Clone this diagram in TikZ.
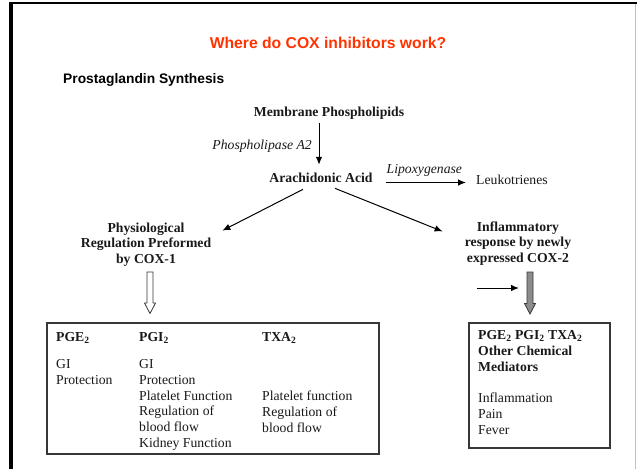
\documentclass[tikz,border=0pt]{standalone}
\usepackage{fontspec}
\setmainfont{Liberation Serif}
\newfontfamily\arialfont{Liberation Sans}
\usetikzlibrary{arrows.meta,calc}
\definecolor{titlered}{RGB}{255,51,0}
\definecolor{boxgray}{RGB}{55,55,55}
\definecolor{blockfill}{RGB}{140,140,140}
\newcommand{\subtwo}{\textsubscript{2}}
\begin{document}
\begin{tikzpicture}[x=1pt,y=-1pt,
  lbl/.style={inner sep=3pt, text=black!90, font=\fontsize{13.7}{15.8}\selectfont},
  blbl/.style={lbl, font=\fontsize{13.7}{15.6}\selectfont\bfseries},
  ilbl/.style={lbl, font=\fontsize{13.7}{15.8}\selectfont\itshape},
  arr/.style={line width=1pt, -{Latex[length=8pt,width=6.5pt]}},
  resultbox/.style={draw=boxgray, line width=1.5pt, inner sep=0pt, anchor=north west},
  blockarrow/.style={draw=boxgray, line width=0.8pt}]
\useasboundingbox (0,0) rectangle (637,469);
% outer frame
\draw[line width=3.4pt] (11,469) -- (11,3);
\draw[line width=2.6pt] (9.3,3) -- (637,3);
\draw[black!25, line width=1pt] (635,4) -- (635,469);

% headings
\node (title) [inner sep=0pt, text=titlered, font=\fontsize{15.7}{18}\selectfont\arialfont\bfseries] at (328,43) {Where do COX inhibitors work?};
\node (sub) [inner sep=0pt, anchor=west, font=\fontsize{13.8}{16}\selectfont\arialfont\bfseries] at (63,80) {Prostaglandin Synthesis};

% pathway
\node (mem) [blbl, anchor=base] at (329,116.5) {Membrane Phospholipids};
\node (ara) [blbl, anchor=base] at (321,182.5) {Arachidonic Acid};
\node (pla) [ilbl, anchor=base east, inner sep=0pt] at (312,149.5) {Phospholipase A2};
\node (leuk) [lbl, anchor=base west] at (473,184.5) {Leukotrienes};
\node (physio) [blbl, anchor=base, align=center] at (146,263.5) {Physiological\\Regulation Preformed\\by COX-1};
\node (infl) [blbl, anchor=base, align=center] at (518,262.5) {Inflammatory\\response by newly\\expressed COX-2};

\draw[arr] ([xshift=-2pt]ara.north |- mem.south) -- ([yshift=5pt,xshift=-2pt]ara.north);
\draw[arr, shorten <=10pt, shorten >=7pt] (ara.base east) -- (ara.base east -| leuk.west)
  node[midway, above, yshift=2.5pt, ilbl, inner sep=3pt] (lipo) {Lipoxygenase};
\draw[arr] ([xshift=-18pt,yshift=-3.5pt]ara.south) -- ([xshift=8pt,yshift=-11pt]physio.north east);
\draw[arr] ([xshift=14pt,yshift=-2.5pt]ara.south) -- ([xshift=-19pt,yshift=-13pt]infl.north west);

% result boxes
\node (lbox) [resultbox, minimum width=332pt, minimum height=131pt] at (46,322) {};
\node (rbox) [resultbox, minimum width=141pt, minimum height=125pt] at (468,322) {};

% block arrows
\coordinate (ha) at (150,272);
\draw[blockarrow, fill=white] (ha) ++(-3,0) -- ++(0,31) -- ++(-2.5,0) -- ++(5.5,10.5) -- ++(5.5,-10.5) -- ++(-2.5,0) -- ++(0,-31) -- cycle;
\coordinate (ga) at (530,272);
\draw[blockarrow, fill=blockfill] (ga) ++(-3,0) -- ++(0,31.5) -- ++(-2.5,0) -- ++(5.5,10.5) -- ++(5.5,-10.5) -- ++(-2.5,0) -- ++(0,-31.5) -- cycle;
\coordinate (sa) at (477,288);
\coordinate (sb) at (519,288);
\draw[arr] (sa) -- (sb);

% left box contents
\node (h1) [blbl, anchor=base west, inner sep=0pt] at (56,341.5) {PGE\subtwo};
\node (h2) [blbl, anchor=base west, inner sep=0pt] at (139,341.5) {PGI\subtwo};
\node (h3) [blbl, anchor=base west, inner sep=0pt] at (262,341.5) {TXA\subtwo};
\node (b1) [lbl, anchor=base west, inner sep=0pt, align=left] at (56,384.3) {GI\\Protection};
\node (b2) [lbl, anchor=base west, inner sep=0pt, align=left] at (139,447.5) {GI\\Protection\\Platelet Function\\Regulation of\\blood flow\\Kidney Function};
\node (b3) [lbl, anchor=base west, inner sep=0pt, align=left] at (262,432.1) {Platelet function\\Regulation of\\blood flow};

% right box contents
\node (r1) [blbl, anchor=base west, inner sep=0pt, align=left, font=\fontsize{13.7}{16}\selectfont\bfseries] at (478,371.5) {PGE\subtwo{} PGI\subtwo{} TXA\subtwo\\Other Chemical\\Mediators};
\node (r2) [lbl, anchor=base west, inner sep=0pt, align=left, font=\fontsize{13.7}{16}\selectfont] at (478,434.5) {Inflammation\\Pain\\Fever};
\end{tikzpicture}
\end{document}
